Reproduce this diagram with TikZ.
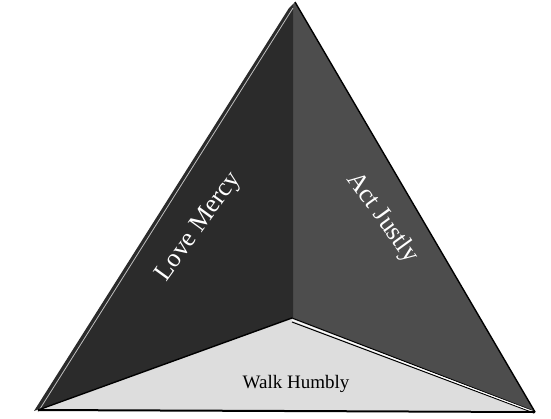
\documentclass[tikz,border=0pt]{standalone}
\usepackage{fontspec}
\setmainfont{Liberation Serif}
\definecolor{leftface}{HTML}{2B2B2B}
\definecolor{rightface}{HTML}{4D4D4D}
\definecolor{bottomface}{HTML}{DDDDDD}
\definecolor{baseline}{HTML}{444444}
\tikzset{
  facelabel/.style={font=\fontsize{26}{30}\selectfont, text=white, inner sep=0pt},
  baselabel/.style={font=\fontsize{19}{22}\selectfont, text=black, inner sep=0pt},
  edge/.style={draw=black, line width=1.4pt}
}
\begin{document}
\begin{tikzpicture}[x=1pt,y=-1pt]
\useasboundingbox (0,0) rectangle (551,418);
\fill[white] (0,0) rectangle (551,418);
\coordinate (apexL) at (289,8);
\coordinate (notch) at (293,4);
\coordinate (apexR) at (295,2);
\coordinate (ctr) at (292,318);
\coordinate (bl) at (34,411);
\coordinate (br) at (535,412);
\coordinate (bl2) at (38,410);
\coordinate (br2) at (531,410);
% faces
\fill[rightface] (apexR) -- (br) -- (ctr) -- (notch) -- cycle;
\fill[leftface] (apexL) -- (notch) -- (293,318) -- (ctr) -- (bl) -- cycle;
\fill[bottomface] (bl2) -- (ctr) -- (br2) -- cycle;
% edges
\draw[edge] (apexR) -- (br);
\draw[white!70!leftface, line width=0.8pt] ([xshift=4pt]apexL) -- ([xshift=4pt,yshift=-1pt]bl);
\draw[edge] (bl2) -- (ctr);
\draw[black, line width=1pt] (ctr) -- (br2);
\draw[black, line width=1pt] ([yshift=-4pt]ctr) -- ([yshift=-3pt,xshift=3pt]br2);
\draw[white, line width=1pt] ([yshift=-2pt]ctr) -- ([yshift=-1.5pt,xshift=2pt]br2);
\draw[baseline, line width=2pt] (bl2) -- (br);
% labels
\node[facelabel, rotate=54] (lm) at (199,227) {Love Mercy};
\node[facelabel, rotate=-54] (aj) at (382,218) {Act Justly};
\node[baselabel] (wh) at (296,384) {Walk Humbly};
\end{tikzpicture}
\end{document}
